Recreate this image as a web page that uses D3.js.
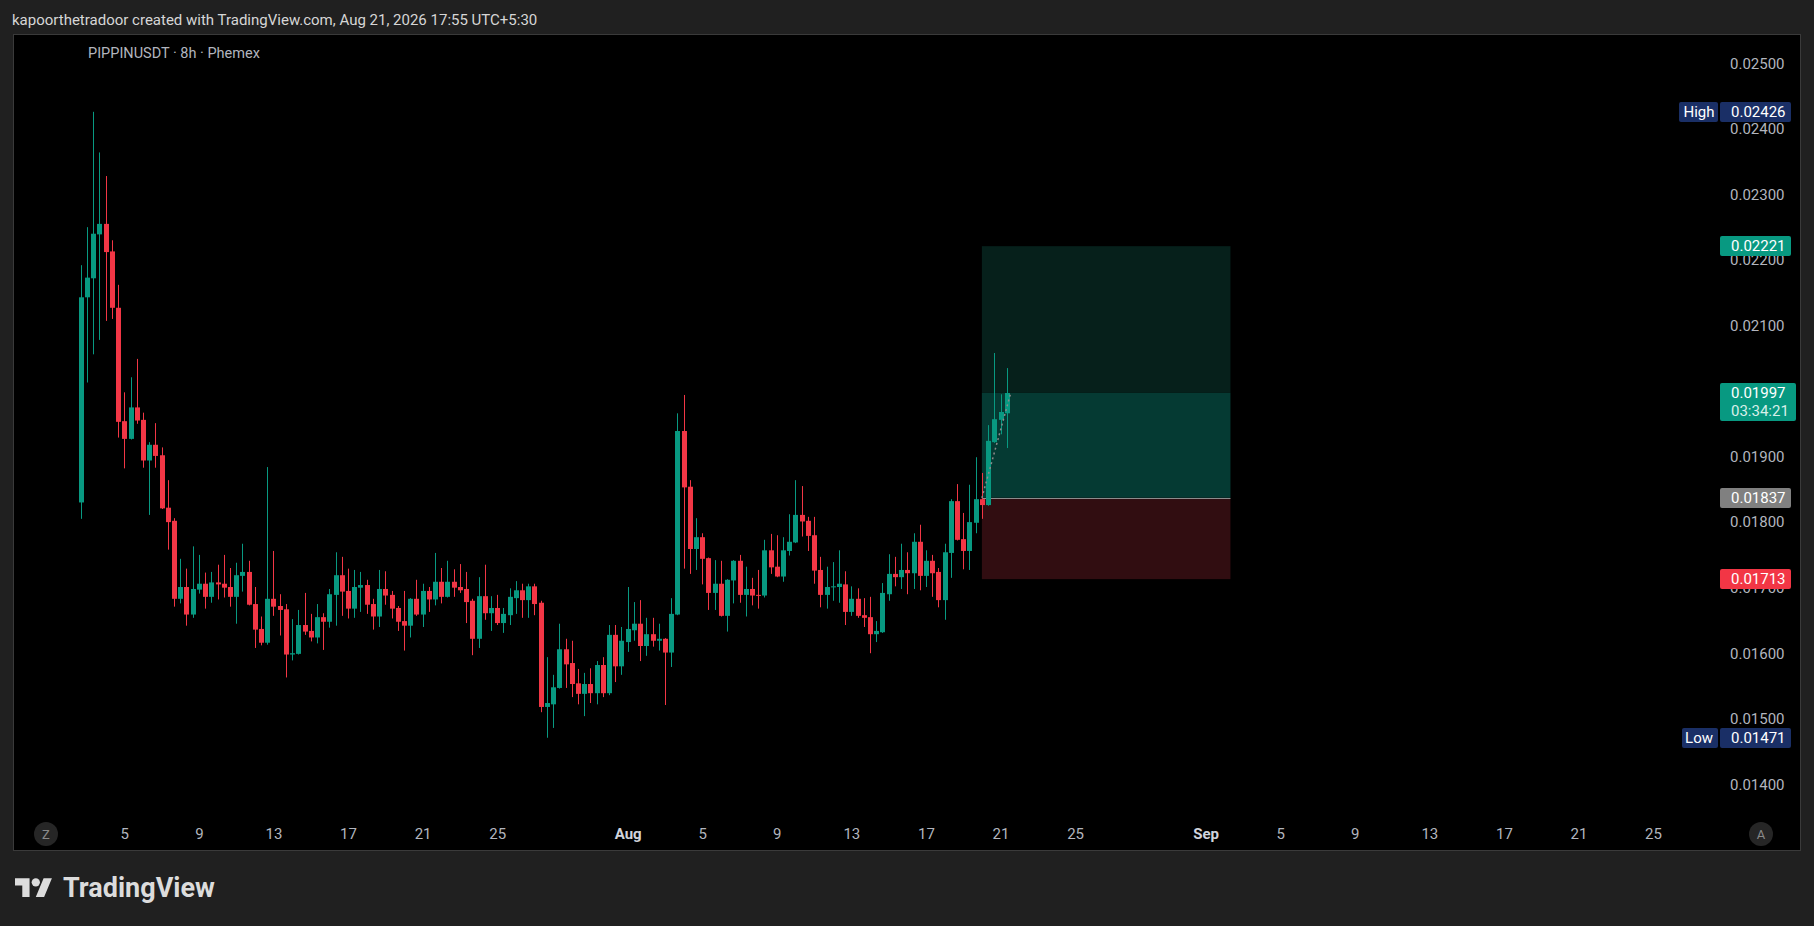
<html>
  <head>
    <meta charset="utf-8">
    <script src="https://d3js.org/d3.v7.min.js"></script>
    <title>PIPPINUSDT 8h</title>
    <style>
      body {
        margin: 0px;
        background: #202020;
      }
      text {
        font-family: Roboto, "Noto Sans", sans-serif;
      }
      .axis .domain {
        display: none;
      }
      .axis .tick text {
        fill: #b2b5be;
        font-size: 15px;
      }
      .tag text {
        fill: #ffffff;
        font-size: 15px;
      }
    </style>
  </head>
  <body>
    <svg width="1814" height="926"></svg>
    <script>
      // 8h candles, first bar opens Jul 2 16:00
      var firstBar = '2026-07-02 16:00';

      var opens = [
        0.01830,0.02143,0.02172,0.02239,0.02255,0.02213,0.02127,0.01954,0.01927,0.01975,
        0.01956,0.01894,0.01918,0.01902,0.01822,0.01802,0.01683,0.01701,0.01659,0.01697,
        0.01706,0.01686,0.01708,0.01706,0.01701,0.01686,0.01718,0.01724,0.01675,0.01637,
        0.01616,0.01683,0.01672,0.01667,0.01598,0.01599,0.01643,0.01634,0.01624,0.01655,
        0.01648,0.01689,0.01719,0.01695,0.01668,0.01700,0.01704,0.01675,0.01656,0.01698,
        0.01689,0.01669,0.01649,0.01642,0.01683,0.01659,0.01695,0.01682,0.01709,0.01686,
        0.01709,0.01701,0.01698,0.01680,0.01622,0.01687,0.01661,0.01669,0.01646,0.01658,
        0.01684,0.01696,0.01681,0.01702,0.01677,0.01518,0.01522,0.01547,0.01606,0.01585,
        0.01554,0.01538,0.01553,0.01539,0.01582,0.01539,0.01628,0.01580,0.01617,0.01635,
        0.01645,0.01611,0.01629,0.01619,0.01622,0.01601,0.01659,0.01939,0.01854,0.01759,
        0.01777,0.01745,0.01692,0.01706,0.01657,0.01711,0.01741,0.01689,0.01698,0.01689,
        0.01688,0.01757,0.01732,0.01717,0.01756,0.01769,0.01811,0.01802,0.01780,0.01727,
        0.01689,0.01701,0.01701,0.01705,0.01663,0.01683,0.01658,0.01655,0.01629,0.01632,
        0.01690,0.01721,0.01716,0.01727,0.01722,0.01770,0.01718,0.01741,0.01724,0.01681,
        0.01753,0.01832,0.01774,0.01756,0.01799,0.01835,0.01826,0.01922,0.01956,0.01966
      ];
      var highs = [
        0.02192,0.02250,0.02426,0.02364,0.02328,0.02230,0.02162,0.01998,0.02021,0.02049,
        0.01967,0.01922,0.01951,0.01914,0.01864,0.01806,0.01744,0.01729,0.01763,0.01750,
        0.01723,0.01724,0.01735,0.01750,0.01730,0.01738,0.01767,0.01741,0.01701,0.01656,
        0.01884,0.01756,0.01690,0.01675,0.01652,0.01666,0.01692,0.01660,0.01675,0.01661,
        0.01698,0.01754,0.01747,0.01729,0.01727,0.01724,0.01712,0.01683,0.01727,0.01725,
        0.01695,0.01672,0.01695,0.01684,0.01712,0.01706,0.01701,0.01753,0.01730,0.01741,
        0.01728,0.01736,0.01724,0.01683,0.01716,0.01735,0.01687,0.01689,0.01669,0.01699,
        0.01710,0.01706,0.01706,0.01706,0.01680,0.01594,0.01567,0.01645,0.01622,0.01619,
        0.01576,0.01570,0.01577,0.01588,0.01594,0.01643,0.01643,0.01640,0.01701,0.01678,
        0.01681,0.01654,0.01654,0.01645,0.01623,0.01684,0.01966,0.01994,0.01864,0.01806,
        0.01783,0.01746,0.01742,0.01741,0.01713,0.01742,0.01750,0.01732,0.01715,0.01727,
        0.01773,0.01782,0.01780,0.01777,0.01812,0.01864,0.01855,0.01808,0.01808,0.01747,
        0.01732,0.01739,0.01757,0.01725,0.01702,0.01699,0.01684,0.01686,0.01649,0.01707,
        0.01751,0.01747,0.01767,0.01754,0.01783,0.01796,0.01757,0.01750,0.01730,0.01767,
        0.01835,0.01858,0.01814,0.01857,0.01899,0.01875,0.01948,0.02058,0.01995,0.02035
      ];
      var lows = [
        0.01805,0.02013,0.02056,0.02078,0.02107,0.02110,0.01929,0.01882,0.01926,0.01950,
        0.01883,0.01811,0.01883,0.01820,0.01758,0.01671,0.01676,0.01642,0.01654,0.01691,
        0.01668,0.01677,0.01682,0.01685,0.01671,0.01645,0.01694,0.01673,0.01608,0.01612,
        0.01613,0.01657,0.01627,0.01563,0.01589,0.01598,0.01628,0.01618,0.01615,0.01605,
        0.01639,0.01642,0.01657,0.01653,0.01654,0.01663,0.01660,0.01636,0.01640,0.01674,
        0.01653,0.01634,0.01604,0.01624,0.01657,0.01640,0.01663,0.01673,0.01676,0.01685,
        0.01686,0.01692,0.01646,0.01597,0.01608,0.01651,0.01634,0.01643,0.01631,0.01643,
        0.01660,0.01654,0.01654,0.01658,0.01510,0.01471,0.01486,0.01546,0.01547,0.01533,
        0.01522,0.01504,0.01524,0.01522,0.01533,0.01536,0.01556,0.01567,0.01602,0.01619,
        0.01588,0.01596,0.01610,0.01604,0.01521,0.01579,0.01658,0.01729,0.01721,0.01727,
        0.01705,0.01666,0.01666,0.01656,0.01633,0.01676,0.01677,0.01656,0.01673,0.01668,
        0.01685,0.01721,0.01716,0.01709,0.01749,0.01768,0.01778,0.01756,0.01706,0.01670,
        0.01668,0.01680,0.01677,0.01643,0.01657,0.01654,0.01640,0.01600,0.01617,0.01631,
        0.01680,0.01702,0.01698,0.01690,0.01698,0.01696,0.01701,0.01686,0.01670,0.01651,
        0.01715,0.01772,0.01728,0.01727,0.01783,0.01805,0.01825,0.01921,0.01934,0.01913
      ];
      var closes = [
        0.02143,0.02173,0.02240,0.02255,0.02212,0.02127,0.01953,0.01927,0.01975,0.01955,
        0.01894,0.01918,0.01901,0.01821,0.01800,0.01683,0.01701,0.01659,0.01698,0.01706,
        0.01686,0.01708,0.01705,0.01700,0.01686,0.01719,0.01724,0.01674,0.01636,0.01616,
        0.01683,0.01671,0.01666,0.01598,0.01600,0.01643,0.01633,0.01624,0.01655,0.01648,
        0.01690,0.01719,0.01694,0.01668,0.01701,0.01704,0.01674,0.01656,0.01698,0.01688,
        0.01668,0.01648,0.01642,0.01683,0.01659,0.01695,0.01682,0.01709,0.01686,0.01709,
        0.01700,0.01696,0.01678,0.01622,0.01687,0.01661,0.01669,0.01646,0.01660,0.01686,
        0.01696,0.01681,0.01702,0.01675,0.01518,0.01524,0.01548,0.01606,0.01583,0.01553,
        0.01538,0.01553,0.01539,0.01582,0.01539,0.01628,0.01580,0.01619,0.01637,0.01645,
        0.01611,0.01629,0.01619,0.01622,0.01601,0.01660,0.01939,0.01853,0.01759,0.01777,
        0.01744,0.01692,0.01706,0.01657,0.01712,0.01741,0.01689,0.01698,0.01688,0.01688,
        0.01757,0.01731,0.01717,0.01757,0.01770,0.01811,0.01801,0.01779,0.01726,0.01689,
        0.01701,0.01702,0.01706,0.01663,0.01683,0.01657,0.01654,0.01629,0.01634,0.01692,
        0.01721,0.01716,0.01727,0.01722,0.01770,0.01718,0.01741,0.01722,0.01681,0.01754,
        0.01832,0.01773,0.01756,0.01800,0.01835,0.01826,0.01924,0.01957,0.01968,0.01997
      ];

      var priceTicks = [0.014, 0.015, 0.016, 0.017, 0.018, 0.019, 0.020, 0.021, 0.022, 0.023, 0.024, 0.025];
      var timeTicks = [
        '2026-07-05', '2026-07-09', '2026-07-13', '2026-07-17', '2026-07-21', '2026-07-25',
        '2026-08-01', '2026-08-05', '2026-08-09', '2026-08-13', '2026-08-17', '2026-08-21', '2026-08-25',
        '2026-09-01', '2026-09-05', '2026-09-09', '2026-09-13', '2026-09-17', '2026-09-21', '2026-09-25'
      ];

      // long position tool
      var posStart = '2026-08-20 00:00';
      var posEnd = '2026-09-02 08:00';
      var posTarget = 0.02221;
      var posEntry = 0.01837;
      var posStop = 0.01713;

      var highMark = 0.02426;
      var lowMark = 0.01471;
      var countdown = '03:34:21';

      var parseBar = d3.timeParse('%Y-%m-%d %H:%M');
      var parseDay = d3.timeParse('%Y-%m-%d');
      var t0 = parseBar(firstBar);

      var bars = opens.map(function (o, i) {
        return {
          time: d3.timeHour.offset(t0, 8 * i),
          open: o, high: highs[i], low: lows[i], close: closes[i]
        };
      });
      var last = bars[bars.length - 1];

      var svg = d3.select('svg');
      var width = +svg.attr('width');
      var height = +svg.attr('height');

      var frame = { left: 13, top: 34, right: 1800, bottom: 850 };
      var plotRight = 1718;

      var xScale = d3.scaleTime()
        .domain([parseDay('2026-07-05'), parseDay('2026-09-01')])
        .range([124.3, 1205.6]);
      var yScale = d3.scaleLinear()
        .domain([0.014, 0.025])
        .range([784.3, 63.3]);

      var green = '#089981';
      var red = '#f23645';
      var fmt = d3.format('.5f');

      // header
      svg.append('text')
        .attr('x', 12).attr('y', 25)
        .attr('fill', '#d6d6d6')
        .style('font-size', '15px')
        .text('kapoorthetradoor created with TradingView.com, Aug 21, 2026 17:55 UTC+5:30');

      svg.append('rect')
        .attr('x', frame.left + 0.5).attr('y', frame.top + 0.5)
        .attr('width', frame.right - frame.left).attr('height', frame.bottom - frame.top)
        .attr('fill', '#000')
        .attr('stroke', '#3a3a3a');

      svg.append('clipPath').attr('id', 'plot')
        .append('rect')
        .attr('x', frame.left + 1).attr('y', frame.top + 1)
        .attr('width', plotRight - frame.left).attr('height', frame.bottom - frame.top - 1);

      var plotG = svg.append('g').attr('clip-path', 'url(#plot)');

      // position boxes
      var bx0 = xScale(parseBar(posStart));
      var bx1 = xScale(parseBar(posEnd));
      var zones = [
        { hi: posTarget, lo: last.close, fill: '#06201b' },
        { hi: last.close, lo: posEntry, fill: '#053a33' },
        { hi: posEntry, lo: posStop, fill: '#310d11' }
      ];
      plotG.selectAll('rect.zone').data(zones)
        .enter().append('rect')
          .attr('class', 'zone')
          .attr('x', bx0).attr('width', bx1 - bx0)
          .attr('y', function (d) { return yScale(d.hi); })
          .attr('height', function (d) { return yScale(d.lo) - yScale(d.hi); })
          .attr('fill', function (d) { return d.fill; });
      plotG.append('line')
        .attr('x1', bx0).attr('x2', bx1)
        .attr('y1', Math.round(yScale(posEntry)) + 0.5).attr('y2', Math.round(yScale(posEntry)) + 0.5)
        .attr('stroke', '#8c8c8c');

      // candles
      var candles = plotG.selectAll('g.candle').data(bars)
        .enter().append('g')
          .attr('class', 'candle')
          .attr('fill', function (d) { return d.close >= d.open ? green : red; })
          .attr('stroke', function (d) { return d.close >= d.open ? green : red; });
      candles.append('line')
        .attr('x1', function (d) { return Math.round(xScale(d.time)) + 0.5; })
        .attr('x2', function (d) { return Math.round(xScale(d.time)) + 0.5; })
        .attr('y1', function (d) { return yScale(d.high); })
        .attr('y2', function (d) { return yScale(d.low); });
      candles.append('rect')
        .attr('stroke', 'none')
        .attr('x', function (d) { return Math.round(xScale(d.time)) - 2; })
        .attr('width', 5)
        .attr('y', function (d) { return yScale(Math.max(d.open, d.close)); })
        .attr('height', function (d) {
          return Math.max(1, Math.abs(yScale(d.open) - yScale(d.close)));
        });

      // dashed path from entry to current price
      plotG.append('line')
        .attr('x1', bx0).attr('y1', yScale(posEntry))
        .attr('x2', xScale(last.time) + 4).attr('y2', yScale(last.close))
        .attr('stroke', '#8a8a8a')
        .attr('stroke-width', 1.5)
        .attr('stroke-dasharray', '2,3');

      svg.append('text')
        .attr('x', 88).attr('y', 58)
        .attr('fill', '#b2b5be')
        .style('font-size', '14.5px')
        .text('PIPPINUSDT \u00b7 8h \u00b7 Phemex');

      // price scale
      var yAxis = d3.axisRight(yScale)
        .tickValues(priceTicks)
        .tickSize(0)
        .tickPadding(8)
        .tickFormat(fmt);
      svg.append('g')
        .attr('class', 'axis')
        .attr('transform', 'translate(1722,0)')
        .call(yAxis);

      // time scale
      var xAxis = d3.axisBottom(xScale)
        .tickValues(timeTicks.map(parseDay))
        .tickSize(0)
        .tickPadding(0)
        .tickFormat(function (d) {
          return d.getDate() === 1 ? d3.timeFormat('%b')(d) : d3.timeFormat('%-d')(d);
        });
      var xAxisG = svg.append('g')
        .attr('class', 'axis')
        .attr('transform', 'translate(0,834)')
        .call(xAxis);
      xAxisG.selectAll('.tick text')
        .attr('y', 0).attr('dy', '0.36em')
        .filter(function (d) { return d.getDate() === 1; })
          .style('font-weight', 'bold')
          .style('fill', '#d1d4dc');

      // Z / A buttons
      [[46, 'Z'], [1761, 'A']].forEach(function (b) {
        svg.append('circle').attr('cx', b[0]).attr('cy', 834).attr('r', 12).attr('fill', '#262626');
        svg.append('text').attr('x', b[0]).attr('y', 834).attr('dy', '0.36em')
          .attr('text-anchor', 'middle').attr('fill', '#8a8a8a')
          .style('font-size', '13px').text(b[1]);
      });

      // price tags
      var tags = [
        { price: highMark, fill: '#1a2f66', label: 'High' },
        { price: posTarget, fill: green },
        { price: posEntry, fill: '#808080' },
        { price: posStop, fill: red },
        { price: lowMark, fill: '#1a2f66', label: 'Low' }
      ];
      var tagG = svg.selectAll('g.tag').data(tags)
        .enter().append('g')
          .attr('class', 'tag')
          .attr('transform', function (d) { return 'translate(0,' + Math.round(yScale(d.price)) + ')'; });
      tagG.append('rect')
        .attr('x', 1720).attr('y', -10).attr('width', 71).attr('height', 20).attr('rx', 2)
        .attr('fill', function (d) { return d.fill; });
      tagG.append('text')
        .attr('x', 1731).attr('dy', '0.36em')
        .text(function (d) { return fmt(d.price); });
      tagG.filter(function (d) { return d.label; })
        .append('rect')
          .attr('x', function (d) { return d.label === 'High' ? 1679 : 1682; })
          .attr('y', -10).attr('height', 20).attr('rx', 2)
          .attr('width', function (d) { return d.label === 'High' ? 39 : 36; })
          .attr('fill', function (d) { return d.fill; });
      tagG.filter(function (d) { return d.label; })
        .append('text')
          .attr('x', 1699).attr('dy', '0.36em')
          .attr('text-anchor', 'middle')
          .text(function (d) { return d.label; });

      // last price tag with countdown
      var lastY = Math.round(yScale(last.close));
      var lastG = svg.append('g').attr('class', 'tag')
        .attr('transform', 'translate(0,' + lastY + ')');
      lastG.append('rect')
        .attr('x', 1720).attr('y', -10).attr('width', 76).attr('height', 38).attr('rx', 2)
        .attr('fill', green);
      lastG.append('text').attr('x', 1731).attr('dy', '0.36em').text(fmt(last.close));
      lastG.append('text').attr('x', 1731).attr('y', 18).attr('dy', '0.36em')
        .style('fill', '#d8efe9').text(countdown);

      // footer logo
      var logo = svg.append('g')
        .attr('transform', 'translate(15,874) scale(1.04)')
        .attr('fill', '#dcdcdc');
      logo.append('path').attr('d', 'M14 22H7V11H0V4h14v18zM28 22h-8l7.5-18h8L28 22z');
      logo.append('circle').attr('cx', 20).attr('cy', 8).attr('r', 4);
      svg.append('text')
        .attr('x', 63).attr('y', 897)
        .attr('fill', '#dcdcdc')
        .style('font-size', '27px')
        .style('font-weight', 'bold')
        .text('TradingView');
    </script>
  </body>
</html>
